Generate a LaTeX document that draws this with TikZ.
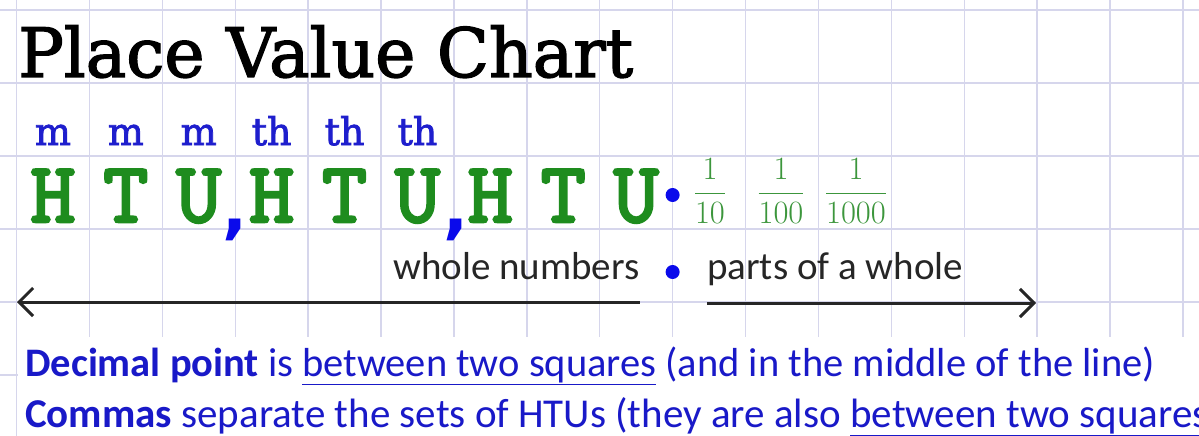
\RequirePackage{fix-cm}
\documentclass[tikz,border=0pt]{standalone}
\usepackage{fontspec}
\usetikzlibrary{arrows.meta}
\newfontfamily\chalkfont{DejaVu Serif}[FakeBold=2]
\newfontfamily\placefont{lmmono10-regular.otf}[FakeBold=3]
\newfontfamily\notefont{Carlito}
\newfontfamily\markfont{DejaVu Sans}
\definecolor{gridlav}{RGB}{214,214,236}
\definecolor{placegreen}{RGB}{30,140,30}
\definecolor{fracgreen}{RGB}{60,150,60}
\definecolor{labelblue}{RGB}{30,30,205}
\definecolor{pointblue}{RGB}{10,10,235}
\definecolor{noteblue}{RGB}{25,25,200}
\definecolor{inkgrey}{RGB}{38,38,38}
\newcommand{\GridX}{16.5}
\newcommand{\GridY}{10}
\newcommand{\GridStep}{72.9}
\newcommand{\RowStep}{73}
\tikzset{
  gridline/.style={draw=gridlav,line width=1.4pt},
  titletext/.style={anchor=base west,inner sep=0pt,font=\chalkfont\fontsize{68}{72}\selectfont},
  placelabel/.style={anchor=base,inner sep=0pt,text=labelblue,font=\chalkfont\fontsize{38}{40}\selectfont},
  placeletter/.style={anchor=base,inner sep=0pt,text=placegreen,font=\placefont\fontsize{86}{88}\selectfont},
  placecomma/.style={anchor=base,inner sep=0pt,text=pointblue,font=\markfont\bfseries\fontsize{66}{68}\selectfont},
  placefrac/.style={inner sep=0pt,text=fracgreen,font=\fontsize{32.5}{34}\selectfont},
  pointdot/.style={circle,fill=pointblue,inner sep=0pt,minimum size=14pt},
  sidetext/.style={anchor=base west,inner sep=0pt,text=inkgrey,font=\notefont\fontsize{39}{41}\selectfont},
  sidearrow/.style={draw=inkgrey,line width=3pt,-{Straight Barb[length=14pt,width=28pt,line width=3pt]}},
  notetext/.style={anchor=base west,inner sep=0pt,text=noteblue,font=\notefont\fontsize{40.5}{42}\selectfont}
}
\begin{document}
\begin{tikzpicture}[x=1pt,y=-1pt]
  \useasboundingbox[fill=white] (0,0) rectangle (1199,436);
  \foreach \k in {0,...,16}
    \draw[gridline] ({\GridX+\k*\GridStep},0) -- ++(0,436);
  \foreach \k in {0,...,5}
    \draw[gridline] (0,{\GridY+\k*\RowStep}) -- ++(1199,0);
  \fill[white] (18,337) rectangle (1199,436);

  \node[titletext] (title) at (18,77) {Place Value Chart};

  \foreach \k/\l in {1/m,2/m,3/m,4/th,5/th,6/th}
    \node[placelabel] (label\k) at ({\GridX+(\k-0.5)*\GridStep},145) {\l};
  \foreach \k/\l in {1/H,2/T,3/U,4/H,5/T,6/U,7/H,8/T,9/U}
    \node[placeletter] (digit\k) at ({\GridX+(\k-0.5)*\GridStep},222) {\l};
  \node[placecomma] (commaA) at ({\GridX+3*\GridStep},231) {,};
  \node[placecomma] (commaB) at ({\GridX+6*\GridStep+2},231) {,};
  \node[pointdot] (point) at ({\GridX+9*\GridStep},195) {};

  \node[placefrac] (tenth) at (710,191) {$\displaystyle\frac{1}{10}$};
  \node[placefrac] (hundredth) at (781,191) {$\displaystyle\frac{1}{100}$};
  \node[placefrac] (thousandth) at (856,191) {$\displaystyle\frac{1}{1000}$};

  \node[sidetext] (whole) at (393,279) {whole numbers};
  \node[pointdot] (split) at ({\GridX+9*\GridStep},272) {};
  \node[sidetext] (parts) at (707,279) {parts of a whole};
  \coordinate (leftend) at (17,302);
  \coordinate (rightend) at (1036,303);
  \draw[sidearrow] (whole.east |- leftend) -- (leftend);
  \draw[sidearrow] (parts.west |- rightend) -- (rightend);

  \node[notetext] (pointnote) at (25,376)
    {\bfseries Decimal point\mdseries{} is \underline{between two squares} (and in the middle of the line)};
  \node[notetext,font=\notefont\fontsize{41}{43}\selectfont] (commanote) at (25,427)
    {\bfseries Commas\mdseries{} separate the sets of HTUs (they are also \underline{between two squares}};
\end{tikzpicture}
\end{document}
